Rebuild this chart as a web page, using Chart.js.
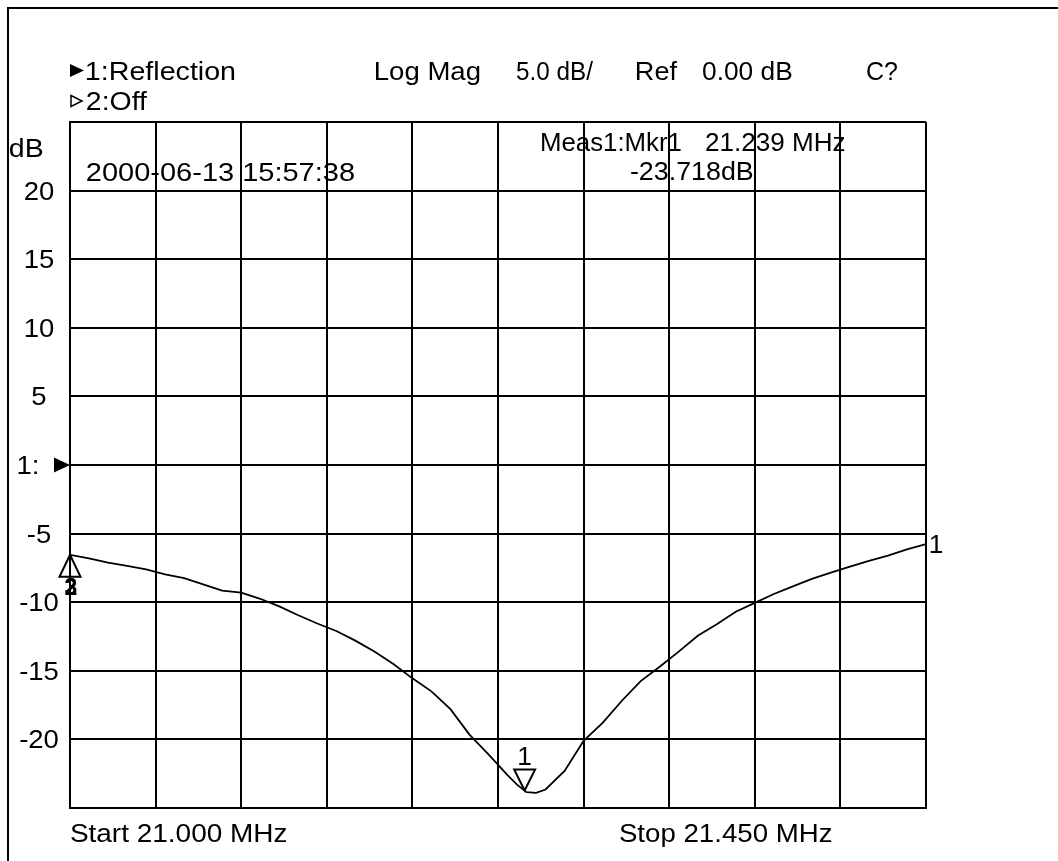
<!DOCTYPE html>
<html>
<head>
<meta charset="utf-8">
<script src="https://cdn.jsdelivr.net/npm/chart.js@4/dist/chart.umd.min.js"></script>
<style>
	html, body { margin: 0; padding: 0; background: #fff; }
	#wrap { width: 1058px; height: 861px; }
</style>
</head>
<body>
<div id="wrap"><canvas id="c" width="1058" height="861"></canvas></div>
<script>
// Reflection trace, 21.000 - 21.450 MHz, every 10 kHz
var freqs = [
	21.000, 21.010, 21.020, 21.030, 21.040, 21.050, 21.060, 21.070, 21.080, 21.090,
	21.100, 21.110, 21.120, 21.130, 21.140, 21.150, 21.160, 21.170, 21.180, 21.190,
	21.200, 21.210, 21.220, 21.230, 21.235, 21.240, 21.245, 21.250, 21.260, 21.270,
	21.280, 21.290, 21.300, 21.310, 21.320, 21.330, 21.340, 21.350, 21.360, 21.370,
	21.380, 21.390, 21.400, 21.410, 21.420, 21.430, 21.440, 21.450
];
var reflDb = [
	-6.55, -6.80, -7.12, -7.35, -7.60, -7.98, -8.25, -8.70, -9.15, -9.30,
	-9.75, -10.30, -10.95, -11.55, -12.10, -12.80, -13.60, -14.50, -15.55, -16.50,
	-17.80, -19.65, -21.10, -22.60, -23.30, -23.85, -23.90, -23.65, -22.30, -20.10,
	-18.80, -17.20, -15.75, -14.70, -13.60, -12.45, -11.60, -10.70, -10.05, -9.40,
	-8.85, -8.30, -7.85, -7.40, -6.98, -6.60, -6.15, -5.76
];

// axis settings
var startMHz = 21.000;
var stopMHz = 21.450;
var refDb = 0;
var dbPerDiv = 5;
var yLabelValues = [20, 15, 10, 5, -5, -10, -15, -20];

// marker 1
var mkrFreq = [21.239];
var mkrDb = [-23.718];

var FONT = '"Liberation Sans", Arial, sans-serif';
var FS = 25;

// draw text so its ink spans [x, x + w], baseline at y
function fitText(ctx, text, x, y, w, size) {
	ctx.save();
	ctx.font = size + 'px ' + FONT;
	ctx.textAlign = 'left';
	ctx.textBaseline = 'alphabetic';
	var m = ctx.measureText(text);
	var ink = m.actualBoundingBoxLeft + m.actualBoundingBoxRight;
	var sx = w / ink;
	ctx.translate(x, y);
	ctx.scale(sx, 1);
	ctx.fillText(text, m.actualBoundingBoxLeft, 0);
	ctx.restore();
}

// draw text centred at x with fixed horizontal stretch
function centerText(ctx, text, cx, y, size, sx, weight) {
	ctx.save();
	ctx.font = (weight || '') + ' ' + size + 'px ' + FONT;
	ctx.textAlign = 'center';
	ctx.textBaseline = 'alphabetic';
	ctx.translate(cx, y);
	ctx.scale(sx, 1);
	ctx.fillText(text, 0, 0);
	ctx.restore();
}

function tri(ctx, pts, fill) {
	ctx.beginPath();
	ctx.moveTo(pts[0], pts[1]);
	ctx.lineTo(pts[2], pts[3]);
	ctx.lineTo(pts[4], pts[5]);
	ctx.closePath();
	if (fill) ctx.fill(); else ctx.stroke();
}

var annotations = {
	id: 'annotations',
	afterDraw: function(chart) {
		var ctx = chart.ctx;
		var xs = chart.scales.x, ys = chart.scales.y;
		ctx.save();
		ctx.fillStyle = '#000';
		ctx.strokeStyle = '#000';
		ctx.lineWidth = 2;

		// outer frame (runs off the right and bottom edges)
		ctx.strokeRect(8, 8, 1080, 900);

		// header
		tri(ctx, [70, 64, 84, 70.5, 70, 77], true);
		fitText(ctx, '1:Reflection', 86, 80, 149, FS);
		ctx.lineWidth = 1.5;
		tri(ctx, [71, 95.5, 82, 101, 71, 106.5], false);
		fitText(ctx, '2:Off', 87, 110, 60, FS);
		fitText(ctx, 'Log Mag', 376, 80, 104, FS);
		fitText(ctx, '5.0 dB/', 517, 80, 76, FS);
		fitText(ctx, 'Ref', 637, 80, 40, FS);
		fitText(ctx, '0.00 dB', 702, 80, 90, FS);
		fitText(ctx, 'C?', 867, 80, 30, FS);

		// y labels
		fitText(ctx, 'dB', 10, 157, 33, FS);
		for (var i = 0; i < yLabelValues.length; i++) {
			var v = yLabelValues[i];
			centerText(ctx, String(v), 39, ys.getPixelForValue(v) + 9, FS, 1.1);
		}
		// reference position marker "1:"
		var yRef = ys.getPixelForValue(refDb);
		centerText(ctx, '1:', 28, yRef + 9, FS, 1.1);
		tri(ctx, [54, yRef - 7.5, 70, yRef, 54, yRef + 7.5], true);

		// date and marker readout
		fitText(ctx, '2000-06-13 15:57:38', 87, 181, 267, FS);
		fitText(ctx, 'Meas1:Mkr1', 542, 151, 139, FS);
		fitText(ctx, mkrFreq[0].toFixed(3) + ' MHz', 706, 151, 139, FS);
		fitText(ctx, mkrDb[0].toFixed(3) + 'dB', 631, 180, 122, FS);

		// footer
		fitText(ctx, 'Start ' + startMHz.toFixed(3) + ' MHz', 71, 842, 216, FS);
		fitText(ctx, 'Stop ' + stopMHz.toFixed(3) + ' MHz', 620, 842, 212, FS);

		// marker 1 (down triangle touching the trace)
		ctx.lineWidth = 2;
		var mx = xs.getPixelForValue(mkrFreq[0]);
		var my = ys.getPixelForValue(mkrDb[0]);
		tri(ctx, [mx - 10.5, my - 21, mx + 10.5, my - 21, mx, my], false);
		centerText(ctx, '1', mx, my - 25, FS, 1.05);

		// markers 2 and 3 parked at the start of the sweep
		var sx0 = xs.getPixelForValue(freqs[0]);
		var sy0 = ys.getPixelForValue(reflDb[0]);
		tri(ctx, [sx0 - 10.5, sy0 + 22, sx0 + 10.5, sy0 + 22, sx0, sy0], false);
		centerText(ctx, '3', sx0 + 1, sy0 + 40, 23, 1.0, 'bold');
		centerText(ctx, '2', sx0 + 1, sy0 + 40, 23, 1.0, 'bold');

		// trace number at the right end
		var ex = xs.getPixelForValue(freqs[freqs.length - 1]);
		var ey = ys.getPixelForValue(reflDb[reflDb.length - 1]);
		centerText(ctx, '1', ex + 10, ey + 9, FS, 1.05);

		ctx.restore();
	}
};

var points = [];
for (var i = 0; i < freqs.length; i++) points.push({ x: freqs[i], y: reflDb[i] });

new Chart(document.getElementById('c'), {
	type: 'line',
	data: {
		datasets: [{
			data: points,
			borderColor: '#000',
			borderWidth: 1.8,
			pointRadius: 0,
			tension: 0,
			fill: false
		}]
	},
	options: {
		responsive: false,
		animation: false,
		layout: { padding: { left: 70, top: 122, right: 132, bottom: 53 } },
		plugins: { legend: { display: false }, tooltip: { enabled: false } },
		scales: {
			x: {
				type: 'linear',
				min: startMHz,
				max: stopMHz,
				ticks: { display: false, count: 11 },
				grid: { color: '#000', lineWidth: 2, drawTicks: false },
				border: { color: '#000', width: 2 }
			},
			y: {
				min: refDb - 5 * dbPerDiv,
				max: refDb + 5 * dbPerDiv,
				ticks: { display: false, stepSize: dbPerDiv },
				grid: { color: '#000', lineWidth: 2, drawTicks: false },
				border: { color: '#000', width: 2 }
			}
		}
	},
	plugins: [annotations]
});
</script>
</body>
</html>
